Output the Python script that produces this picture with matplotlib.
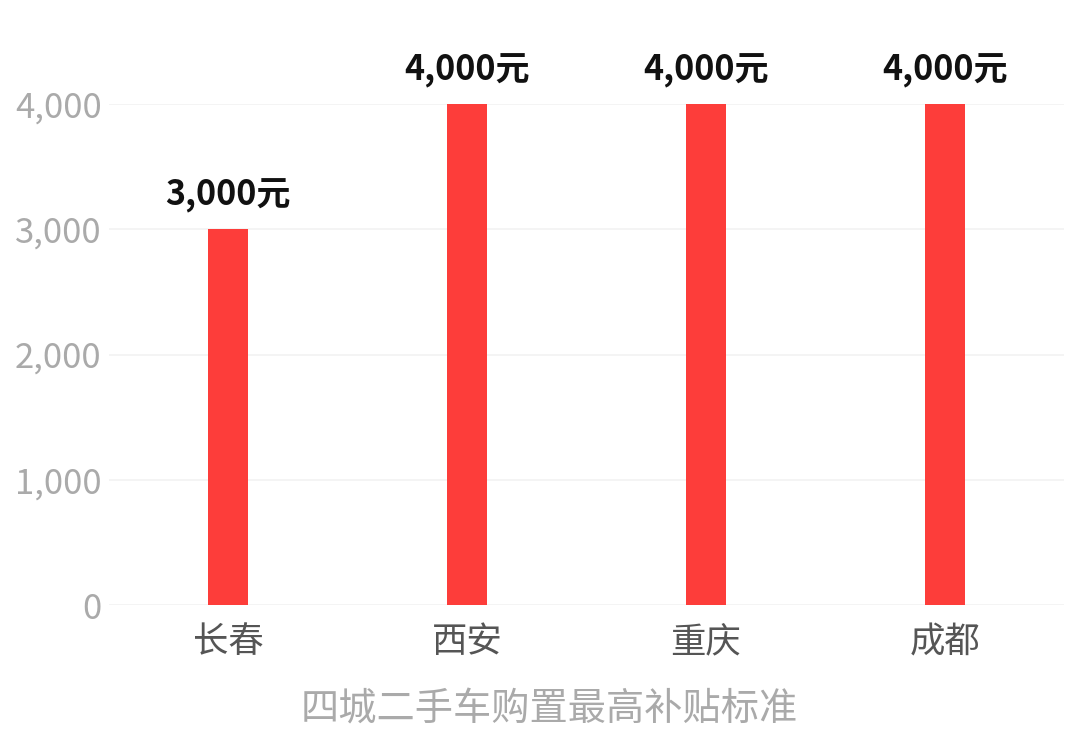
import matplotlib.pyplot as plt

plt.rcParams['font.family'] = ['Noto Sans CJK SC', 'DejaVu Sans']

# Dados
cidades = ['长春', '西安', '重庆', '成都']
subsidio = [3000, 4000, 4000, 4000]
rotulos = ['3,000元', '4,000元', '4,000元', '4,000元']
yticks = [0, 1000, 2000, 3000, 4000]
ytick_labels = ['0', '1,000', '2,000', '3,000', '4,000']

fig = plt.figure(figsize=(10.8, 7.44), dpi=100)
ax = fig.add_axes([0.1005, 0.1868, 0.885, 0.6734])

x = range(len(cidades))
ax.bar(x, subsidio, width=0.17, color='#fd3d3a', zorder=3)

for i, v in enumerate(subsidio):
    ax.text(i, v + 130, rotulos[i], ha='center', va='bottom',
            fontsize=24.5, fontweight='bold', color='#111111', clip_on=False)

ax.set_xlim(-0.5, 3.5)
ax.set_ylim(0, 4000)
ax.set_yticks(yticks)
ax.set_yticklabels(ytick_labels, fontsize=25, color='#aaaaaa', fontweight='light')
ax.set_xticks(list(x))
ax.set_xticklabels(cidades, fontsize=25.5, color='#555555', fontweight='light')
ax.tick_params(axis='both', length=0)
ax.tick_params(axis='y', pad=5)
ax.tick_params(axis='x', pad=14)

ax.grid(axis='y', color='#f2f2f2', linewidth=1.2, zorder=0)
ax.set_axisbelow(True)
for s in ax.spines.values():
    s.set_visible(False)

# Título embaixo, centralizado na figura
fig.text(0.509, 0.046, '四城二手车购置最高补贴标准', fontsize=27.5, color='#aaaaaa',
         fontweight='light', ha='center', va='center')

fig.savefig('out.png', dpi=100, facecolor='white')
